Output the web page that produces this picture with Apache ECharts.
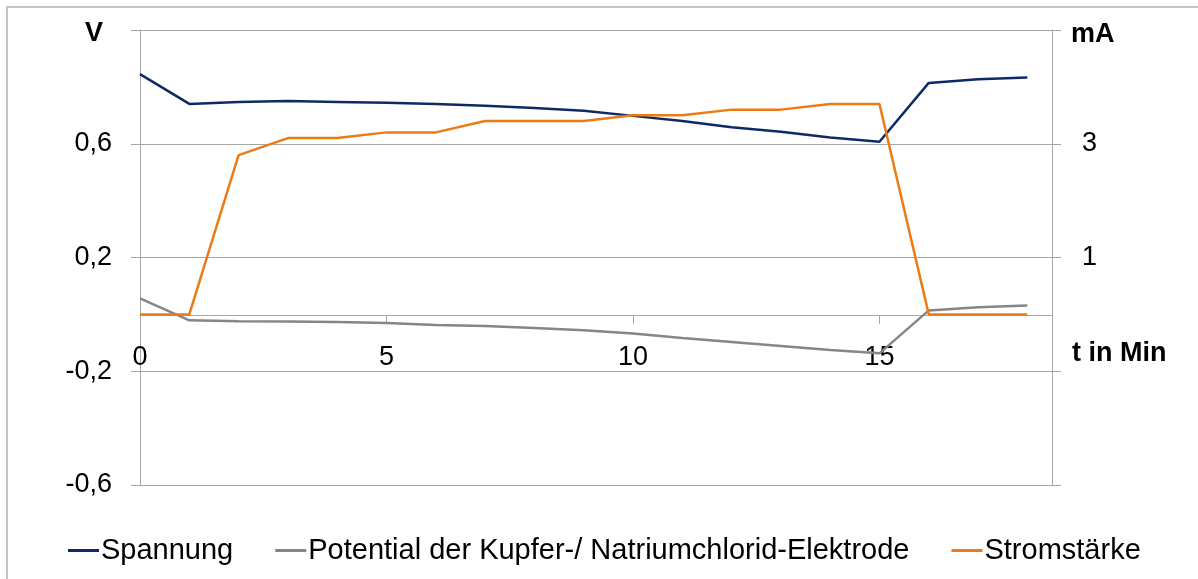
<!DOCTYPE html>
<html>
<head>
<meta charset="utf-8">
<script src="https://cdn.jsdelivr.net/npm/echarts@6/dist/echarts.min.js"></script>
<style>
  html, body { margin: 0; padding: 0; background: #fff; }
  #frame {
    position: absolute; left: 6px; top: 6px; width: 1192px; height: 573px;
    border-top: 2px solid #c4c4c4; border-left: 2px solid #c4c4c4;
  }
  #chart { position: absolute; left: 0; top: 0; width: 1198px; height: 579px; }
</style>
</head>
<body>
<div id="frame"></div>
<div id="chart"></div>
<script>
// Zeit in Minuten
const minuten = [0, 1, 2, 3, 4, 5, 6, 7, 8, 9, 10, 11, 12, 13, 14, 15, 16, 17, 18];
// Spannung in V
const spannung = [0.845, 0.74, 0.747, 0.75, 0.747, 0.744, 0.74, 0.734, 0.726, 0.716, 0.698,
  0.68, 0.658, 0.642, 0.622, 0.607, 0.814, 0.827, 0.833];
// Potential der Kupfer-/ Natriumchlorid-Elektrode in V
const potential = [0.056, -0.021, -0.024, -0.025, -0.027, -0.03, -0.037, -0.041, -0.048,
  -0.056, -0.067, -0.083, -0.097, -0.111, -0.125, -0.137, 0.014, 0.025, 0.031];
// Stromstärke in mA
const strom = [0, 0, 2.8, 3.1, 3.1, 3.2, 3.2, 3.4, 3.4, 3.4, 3.5, 3.5, 3.6, 3.6, 3.7, 3.7, 0, 0, 0];

const namen = ["Spannung", "Potential der Kupfer-/ Natriumchlorid-Elektrode", "Stromstärke"];
const farben = ["#0e2a66", "#868686", "#ee7a16"];

const FONT = "Liberation Sans";
const FS = 27;

function paare(werte) {
  return minuten.map((t, i) => [t, werte[i]]);
}

const chart = echarts.init(document.getElementById("chart"));

const option = {
  animation: false,
  textStyle: { fontFamily: FONT },
  grid: { left: 140, right: 146, top: 30, bottom: 94, containLabel: false },
  legend: {
    left: 63,
    top: 531,
    icon: "rect",
    itemWidth: 31,
    itemHeight: 3,
    itemGap: 42,
    textStyle: { fontFamily: FONT, fontSize: 29, color: "#000", padding: [0, 0, 0, -3] },
    data: namen
  },
  xAxis: {
    type: "value",
    position: "bottom",
    offset: -170,
    min: 0,
    max: 18.5,
    interval: 5,
    name: "{t|t in Min}",
    nameLocation: "end",
    nameGap: 20,
    nameTextStyle: {
      rich: {
        t: { fontFamily: FONT, fontSize: FS, fontWeight: "bold", color: "#000", padding: [78, 0, 0, 0] }
      }
    },
    axisLine: { onZero: false, lineStyle: { color: "#a6a6a6", width: 1 } },
    axisTick: { show: true, inside: false, length: 9, lineStyle: { color: "#a6a6a6" } },
    axisLabel: {
      margin: 29,
      fontFamily: FONT, fontSize: FS, color: "#000",
      showMaxLabel: false,
      formatter: (v) => (v % 5 === 0 ? String(v) : "")
    },
    splitLine: { show: false }
  },
  yAxis: [
    {
      type: "value",
      position: "left",
      min: -0.6,
      max: 1.0,
      interval: 0.4,
      axisLine: { show: true, onZero: false, lineStyle: { color: "#a6a6a6", width: 1 } },
      axisTick: { show: true, inside: false, length: 9, lineStyle: { color: "#a6a6a6" } },
      splitLine: { show: true, lineStyle: { color: "#a6a6a6", width: 1 } },
      axisLabel: {
        margin: 28,
        fontFamily: FONT, fontSize: FS, color: "#000",
        formatter: (v) => {
          if (Math.abs(v - 1) < 1e-6) return "{b|V}";
          return v.toFixed(1).replace(".", ",");
        },
        rich: {
          b: { fontFamily: FONT, fontSize: FS, fontWeight: "bold", color: "#000", padding: [8, 9, 0, 0] }
        }
      }
    },
    {
      type: "value",
      position: "right",
      min: -3,
      max: 5,
      interval: 2,
      axisLine: { show: true, onZero: false, lineStyle: { color: "#a6a6a6", width: 1 } },
      axisTick: { show: true, inside: false, length: 9, lineStyle: { color: "#a6a6a6" } },
      splitLine: { show: false },
      axisLabel: {
        margin: 19,
        fontFamily: FONT, fontSize: FS, color: "#000",
        formatter: (v) => {
          if (v === 5) return "{b|mA}";
          if (v < 0) return "";
          return "{n|" + v + "}";
        },
        rich: {
          b: { fontFamily: FONT, fontSize: FS, fontWeight: "bold", color: "#000", padding: [9, 0, 0, 0] },
          n: { fontFamily: FONT, fontSize: FS, color: "#000", padding: [0, 0, 0, 11] }
        }
      }
    }
  ],
  series: [
    {
      name: namen[0],
      type: "line",
      yAxisIndex: 0,
      data: paare(spannung),
      symbol: "none",
      lineStyle: { color: farben[0], width: 2.5 },
      itemStyle: { color: farben[0] },
      z: 3
    },
    {
      name: namen[1],
      type: "line",
      yAxisIndex: 0,
      data: paare(potential),
      symbol: "none",
      lineStyle: { color: farben[1], width: 2.5 },
      itemStyle: { color: farben[1] },
      z: 2
    },
    {
      name: namen[2],
      type: "line",
      yAxisIndex: 1,
      data: paare(strom),
      symbol: "none",
      lineStyle: { color: farben[2], width: 2.5 },
      itemStyle: { color: farben[2] },
      z: 4
    }
  ]
};

chart.setOption(option);
</script>
</body>
</html>
